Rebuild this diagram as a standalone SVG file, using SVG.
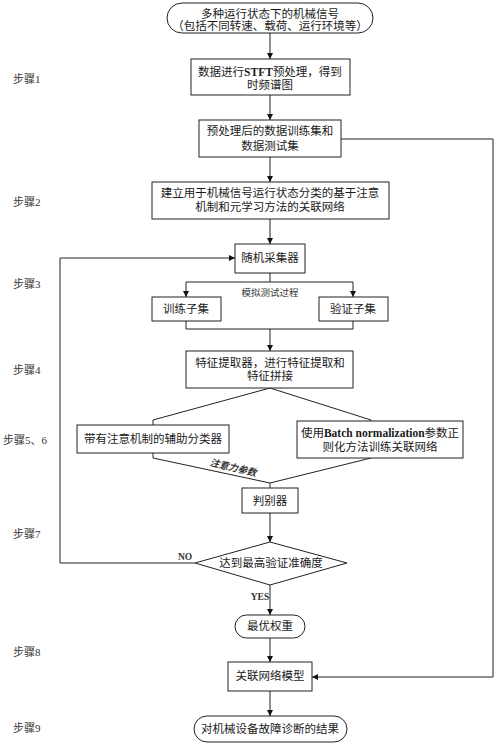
<svg xmlns="http://www.w3.org/2000/svg" width="500" height="745" viewBox="0 0 500 745">
<defs>
<style>
.n{fill:#fff;stroke:#222;stroke-width:1}
.t{font-family:"Liberation Serif","Noto Sans CJK SC",serif;font-size:11.5px;fill:#1a1a1a;text-anchor:middle}
.b{font-weight:bold}
.s{font-family:"Liberation Serif","Noto Sans CJK SC",serif;font-size:11px;fill:#333}
.sm{font-family:"Liberation Serif","Noto Sans CJK SC",serif;font-size:9.5px;fill:#333;text-anchor:middle}
.c{fill:none;stroke:#222;stroke-width:1}
</style>
<marker id="ah" viewBox="0 0 8 8" refX="8" refY="4" markerWidth="6" markerHeight="6" orient="auto" markerUnits="userSpaceOnUse">
<path d="M0,0 L8,4 L0,8 Z" fill="#111"/>
</marker>
</defs>
<rect width="500" height="745" fill="#fff"/>

<g id="steps">
<text class="s" x="13" y="83">步骤1</text>
<text class="s" x="13" y="206">步骤2</text>
<text class="s" x="13" y="288">步骤3</text>
<text class="s" x="13" y="374">步骤4</text>
<text class="s" x="3" y="444">步骤5、6</text>
<text class="s" x="13" y="538">步骤7</text>
<text class="s" x="13" y="656">步骤8</text>
<text class="s" x="13" y="732">步骤9</text>
</g>

<g id="connectors">
<path class="c" d="M270,33 V59" marker-end="url(#ah)"/>
<path class="c" d="M270,95 V120" marker-end="url(#ah)"/>
<path class="c" d="M270,157 V182" marker-end="url(#ah)"/>
<path class="c" d="M270,219 V244" marker-end="url(#ah)"/>
<path class="c" d="M341,139 H493 V677 H312" marker-end="url(#ah)"/>
<path class="c" d="M270,273 V282 M186,282 H353"/>
<path class="c" d="M186,282 V297" marker-end="url(#ah)"/>
<path class="c" d="M353,282 V297" marker-end="url(#ah)"/>
<path class="c" d="M186,321 V329 H353 V321"/>
<path class="c" d="M270,329 V351" marker-end="url(#ah)"/>
<path class="c" d="M153,425 V420 L270,388 L371,420 V421"/>
<path class="c" d="M153,453 V458 L270,483 L371,458 M270,483 V488"/>
<path class="c" d="M270,513 V542" marker-end="url(#ah)"/>
<path class="c" d="M195,563 H60 V258 H235" marker-end="url(#ah)"/>
<path class="c" d="M270,585 V615" marker-end="url(#ah)"/>
<path class="c" d="M270,638 V662" marker-end="url(#ah)"/>
<path class="c" d="M270,691 V716" marker-end="url(#ah)"/>
<text class="sm" x="270" y="296">模拟测试过程</text>
<text class="sm" x="233" y="471" font-style="italic" font-weight="bold" transform="rotate(13 233 468)">注意力参数</text>
<text class="sm b" x="185" y="560" font-size="10px" fill="#111">NO</text>
<text class="sm b" x="260" y="600" font-size="10px" fill="#111">YES</text>
</g>

<g id="start">
<rect class="n" x="167" y="3" width="206" height="30" rx="15"/>
<text class="t" x="270" y="18">多种运行状态下的机械信号</text>
<text class="t" x="270" y="30">（包括不同转速、载荷、运行环境等）</text>
</g>

<g id="stft">
<rect class="n" x="191" y="59" width="159" height="36"/>
<text class="t" x="270" y="76">数据进行<tspan class="b">STFT</tspan>预处理，得到</text>
<text class="t" x="270" y="89">时频谱图</text>
</g>

<g id="dataset">
<rect class="n" x="199" y="120" width="142" height="37"/>
<text class="t" x="270" y="135">预处理后的数据训练集和</text>
<text class="t" x="270" y="150">数据测试集</text>
</g>

<g id="network">
<rect class="n" x="152" y="182" width="237" height="37"/>
<text class="t" x="270" y="197">建立用于机械信号运行状态分类的基于注意</text>
<text class="t" x="270" y="211">机制和元学习方法的关联网络</text>
</g>

<g id="sampler">
<rect class="n" x="235" y="244" width="70" height="29"/>
<text class="t" x="270" y="262">随机采集器</text>
</g>

<g id="train">
<rect class="n" x="152" y="297" width="69" height="24"/>
<text class="t" x="186" y="313">训练子集</text>
</g>

<g id="valid">
<rect class="n" x="319" y="297" width="69" height="24"/>
<text class="t" x="353" y="313">验证子集</text>
</g>

<g id="feature">
<rect class="n" x="186" y="351" width="167" height="37"/>
<text class="t" x="270" y="367">特征提取器，进行特征提取和</text>
<text class="t" x="270" y="380">特征拼接</text>
</g>

<g id="aux">
<rect class="n" x="77" y="425" width="152" height="28"/>
<text class="t" x="153" y="443">带有注意机制的辅助分类器</text>
</g>

<g id="bn">
<rect class="n" x="297" y="421" width="166" height="37"/>
<text class="t" x="380" y="437">使用<tspan class="b">Batch normalization</tspan>参数正</text>
<text class="t" x="380" y="451">则化方法训练关联网络</text>
</g>

<g id="disc">
<rect class="n" x="242" y="488" width="56" height="25"/>
<text class="t" x="270" y="505">判别器</text>
</g>

<g id="decision">
<polygon class="n" points="270,542 347,563 270,585 195,563"/>
<text class="t" x="271" y="567">达到最高验证准确度</text>
</g>

<g id="best">
<rect class="n" x="235" y="615" width="70" height="23" rx="11.5"/>
<text class="t" x="270" y="630">最优权重</text>
</g>

<g id="model">
<rect class="n" x="228" y="662" width="84" height="29"/>
<text class="t" x="270" y="680">关联网络模型</text>
</g>

<g id="result">
<rect class="n" x="194" y="716" width="153" height="26" rx="13"/>
<text class="t" x="270" y="733">对机械设备故障诊断的结果</text>
</g>
</svg>
